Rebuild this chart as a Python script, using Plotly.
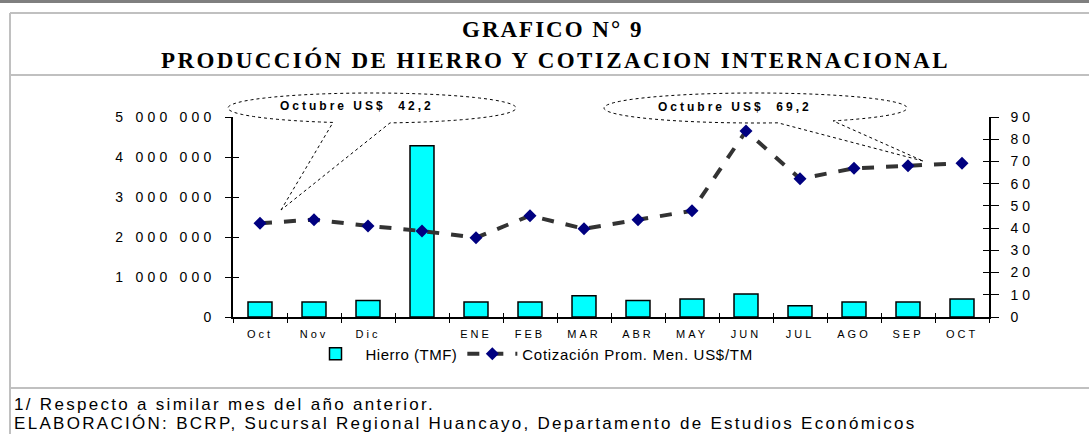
import numpy as np
import plotly.graph_objects as go

# ---- data ----
meses = ["Oct", "Nov", "Dic", " ", "ENE", "FEB", "MAR", "ABR", "MAY", "JUN", "JUL", "AGO", "SEP", "OCT"]
hierro_tmf = [372000, 372000, 410000, 4280000, 372000, 372000, 530000, 410000, 450000, 575000,
              280000, 372000, 372000, 450000]
cotizacion = [42.2, 43.8, 41.0, 38.7, 35.7, 45.6, 39.7, 43.8, 47.8, 83.7, 62.2, 66.9, 68.1, 69.2]

y1_ticks = [0, 1000000, 2000000, 3000000, 4000000, 5000000]
y1_labels = ["0", "1 000 000", "2 000 000", "3 000 000", "4 000 000", "5 000 000"]
y2_ticks = [0, 10, 20, 30, 40, 50, 60, 70, 80, 90]

W, H = 1089, 434
L, R, T, B = 233, 989, 117, 317   # plot area in pixels


def px(x):
    return (x - L) / (R - L)


def py(y):
    return (B - y) / (B - T)


def spaced(s, sp):
    return f"<span style='letter-spacing:{sp}px'>{s}</span>"


def callout(cx, cy, rx, ry, xa, xb, tip):
    # dotted ellipse callout, open between the two base points, pointing at tip
    ta = np.degrees(np.arccos((xa - cx) / rx))
    tb = np.degrees(np.arccos((xb - cx) / rx))
    if ta < tb:
        ta, tb = tb, ta
    ang = np.radians(np.linspace(ta, tb + 360, 120))
    pts = [(cx + rx * np.cos(a), cy + ry * np.sin(a)) for a in ang]
    path = f"M {px(tip[0]):.4f},{py(tip[1]):.4f} "
    path += " ".join(f"L {px(x):.4f},{py(y):.4f}" for x, y in pts)
    path += f" L {px(tip[0]):.4f},{py(tip[1]):.4f}"
    return dict(type="path", xref="paper", yref="paper", path=path,
                line=dict(color="black", width=1, dash="dot"))


fig = go.Figure()

fig.add_trace(go.Bar(
    x=meses, y=hierro_tmf, name=spaced("Hierro (TMF)", 0.5),
    marker=dict(color="#00FFFF", line=dict(color="black", width=1.5)),
    yaxis="y",
))

fig.add_trace(go.Scatter(
    x=meses, y=cotizacion, name=spaced("Cotización Prom. Men. US$/TM", 0.7),
    mode="lines+markers",
    line=dict(color="#333333", width=4, dash="dash"),
    marker=dict(symbol="diamond", size=10, color="#000080"),
    yaxis="y2",
))

# empty traces so the inner halves of the "cross" ticks get drawn
fig.add_trace(go.Scatter(x=[], y=[], xaxis="x2", yaxis="y3", showlegend=False, hoverinfo="skip"))
fig.add_trace(go.Scatter(x=[], y=[], xaxis="x2", yaxis="y4", showlegend=False, hoverinfo="skip"))

tickfont = dict(family="Liberation Sans, Arial", size=14, color="black")
bounds = [i + 0.5 for i in range(-1, len(meses))]

fig.update_layout(
    width=W, height=H,
    margin=dict(l=L, r=W - R, t=T, b=H - B),
    plot_bgcolor="white", paper_bgcolor="white",
    bargap=0.556,
    showlegend=True,
    legend=dict(orientation="h", x=px(532), xanchor="center", y=py(354), yanchor="middle",
                font=dict(family="Liberation Sans, Arial", size=15, color="black"),
                itemwidth=50, bgcolor="rgba(0,0,0,0)"),
    xaxis=dict(
        type="category", range=[-0.5, 13.5],
        tickmode="array", tickvals=meses,
        ticktext=[spaced(m, 3) for m in meses],
        tickson="boundaries", ticks="outside", ticklen=4, tickcolor="black",
        showline=True, linecolor="black", linewidth=1.5,
        showgrid=False, zeroline=False, ticklabelstandoff=6,
        tickfont=dict(family="Liberation Sans, Arial", size=11, color="black"),
    ),
    xaxis2=dict(
        type="linear", range=[-0.5, 13.5], overlaying="x", side="bottom", anchor="y3",
        tickmode="array", tickvals=bounds,
        ticks="inside", ticklen=4, tickcolor="black",
        showline=False, showgrid=False, zeroline=False, showticklabels=False,
    ),
    yaxis=dict(
        range=[0, 5000000], tickmode="array", tickvals=y1_ticks,
        ticktext=[spaced(t, 4.2) for t in y1_labels],
        ticks="outside", ticklen=6, tickcolor="black",
        showline=True, linecolor="black", linewidth=1.5,
        showgrid=False, zeroline=False, tickfont=tickfont, ticklabelstandoff=7,
    ),
    yaxis2=dict(
        range=[0, 90], overlaying="y", side="right",
        tickmode="array", tickvals=y2_ticks,
        ticktext=[spaced(str(t), 4) for t in y2_ticks],
        ticks="outside", ticklen=8, tickcolor="black",
        showline=True, linecolor="black", linewidth=1.5,
        showgrid=False, zeroline=False, tickfont=tickfont, ticklabelstandoff=9,
    ),
    yaxis3=dict(
        range=[0, 5000000], overlaying="y", side="left", anchor="x2",
        tickmode="array", tickvals=y1_ticks, ticks="inside", ticklen=6, tickcolor="black",
        showline=False, showgrid=False, zeroline=False, showticklabels=False,
    ),
    yaxis4=dict(
        range=[0, 90], overlaying="y", side="right", anchor="x2",
        tickmode="array", tickvals=y2_ticks, ticks="inside", ticklen=6, tickcolor="black",
        showline=False, showgrid=False, zeroline=False, showticklabels=False,
    ),
)

shapes = [
    # top dark rule
    dict(type="line", xref="paper", yref="paper", x0=px(0), x1=px(W), y0=py(1.5), y1=py(1.5),
         line=dict(color="#7f7f7f", width=3)),
    # frame
    dict(type="line", xref="paper", yref="paper", x0=px(10), x1=px(W), y0=py(13), y1=py(13),
         line=dict(color="#c0c0c0", width=2)),
    dict(type="line", xref="paper", yref="paper", x0=px(10), x1=px(10), y0=py(13), y1=py(H),
         line=dict(color="#c0c0c0", width=2)),
    dict(type="line", xref="paper", yref="paper", x0=px(10), x1=px(W), y0=py(75), y1=py(75),
         line=dict(color="#c0c0c0", width=2)),
    dict(type="line", xref="paper", yref="paper", x0=px(10), x1=px(W), y0=py(388), y1=py(388),
         line=dict(color="#c0c0c0", width=2)),
    callout(372, 108, 144, 15, 333, 390, (281, 210)),
    callout(755.5, 108, 151.5, 15, 778, 833, (923, 161)),
]
fig.update_layout(shapes=shapes)

title_font = dict(family="Liberation Serif, Times New Roman", size=23, color="black")
note_font = dict(family="Liberation Sans, Arial", size=17, color="black")
call_font = dict(family="Liberation Sans, Arial", size=12, color="black")

annotations = [
    dict(text=spaced("<b>GRAFICO N° 9</b>", 2), x=px(552), y=py(29)),
    dict(text=spaced("<b>PRODUCCIÓN DE HIERRO Y COTIZACION INTERNACIONAL</b>", 2.4), x=px(555), y=py(60)),
]
for a in annotations:
    a.update(xref="paper", yref="paper", showarrow=False, xanchor="center", yanchor="middle",
             font=title_font)

annotations += [
    dict(text=spaced("<b>Octubre US$  42,2</b>", 3), x=px(357), y=py(106), font=call_font),
    dict(text=spaced("<b>Octubre US$  69,2</b>", 3), x=px(735), y=py(107), font=call_font),
]
for a in annotations[2:]:
    a.update(xref="paper", yref="paper", showarrow=False, xanchor="center", yanchor="middle")

annotations += [
    dict(text=spaced("1/ Respecto a similar mes del año anterior.", 2.3), x=px(12), y=py(404)),
    dict(text=spaced("ELABORACIÓN: BCRP, Sucursal Regional Huancayo, Departamento de Estudios Económicos", 2.3),
         x=px(12), y=py(423)),
]
for a in annotations[4:]:
    a.update(xref="paper", yref="paper", showarrow=False, xanchor="left", yanchor="middle",
             font=note_font)

fig.update_layout(annotations=annotations)

fig.write_html("out.html", config={"displayModeBar": False},
               post_script="document.body.style.margin='0';")
